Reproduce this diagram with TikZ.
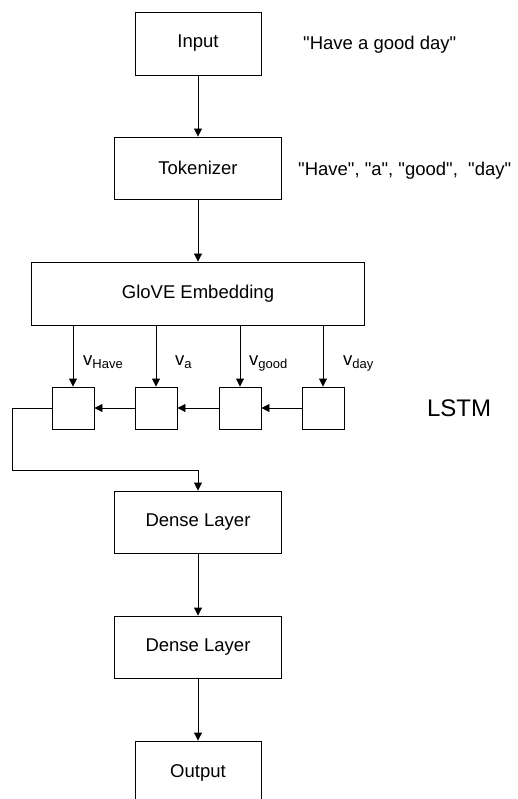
\documentclass[tikz,border=0pt]{standalone}
\usepackage{fontspec}
\setmainfont{Liberation Sans}[Ligatures=TeXOff]
\usetikzlibrary{arrows.meta}
\begin{document}
\begin{tikzpicture}[x=1pt,y=-1pt,
  box/.style={draw, line width=0.9pt, inner sep=0pt, font=\fontsize{18.5}{22}\selectfont},
  cell/.style={draw, line width=0.9pt, minimum width=42pt, minimum height=42pt, inner sep=0pt},
  arr/.style={line width=0.9pt, -{Triangle[width=8pt,length=8pt]}},
  lab/.style={inner sep=0pt, font=\fontsize{18.5}{22}\selectfont},
  sub/.style={inner sep=0pt, anchor=base west, font=\fontsize{18.5}{22}\selectfont}]
\useasboundingbox (0,0) rectangle (517,799);
\clip (0,0) rectangle (517,799);
\node[box, minimum width=126pt, minimum height=63pt] (input) at (198,43.5) {Input};
\node[box, minimum width=167pt, minimum height=62pt] (tok) at (198,168) {Tokenizer};
\node[box, minimum width=333pt, minimum height=63pt] (glove) at (198,293.5) {GloVE Embedding};
\node[cell] (l1) at (73,408) {};
\node[cell] (l2) at (156,408) {};
\node[cell] (l3) at (240,408) {};
\node[cell] (l4) at (323,408) {};
\node[box, minimum width=167pt, minimum height=62pt] (d1) at (198,522) {Dense Layer};
\node[box, minimum width=167pt, minimum height=62pt] (d2) at (198,647) {Dense Layer};
\node[box, minimum width=126pt, minimum height=63pt] (out) at (198,772.5) {Output};

\node[lab, anchor=west] (t1) at (303,45) {"Have a good day"};
\node[lab, anchor=west] (t2) at (298,171) {"Have", "a", "good", \ "day"};
\node[inner sep=0pt, font=\fontsize{24}{28}\selectfont] (lstm) at (459,408) {LSTM};

\newcommand{\subt}[1]{\raisebox{-3pt}{\fontsize{13}{15}\selectfont #1}}
\node[sub] (s1) at (83,365) {v\subt{Have}};
\node[sub] (s2) at (175,365) {v\subt{a}};
\node[sub] (s3) at (249,365) {v\subt{good}};
\node[sub] (s4) at (343,365) {v\subt{day}};

\draw[arr] (input.south) -- (tok.north);
\draw[arr] (tok.south) -- (glove.north);
\foreach \c in {l1,l2,l3,l4}{
  \draw[arr] (glove.south -| \c.north) -- (\c.north);
}
\draw[arr] (l4.west) -- (l3.east);
\draw[arr] (l3.west) -- (l2.east);
\draw[arr] (l2.west) -- (l1.east);
\coordinate (bend) at (12,470);
\draw[arr] (l1.west) -| (bend) -| (d1.north);
\draw[arr] (d1.south) -- (d2.north);
\draw[arr] (d2.south) -- (out.north);
\end{tikzpicture}
\end{document}
